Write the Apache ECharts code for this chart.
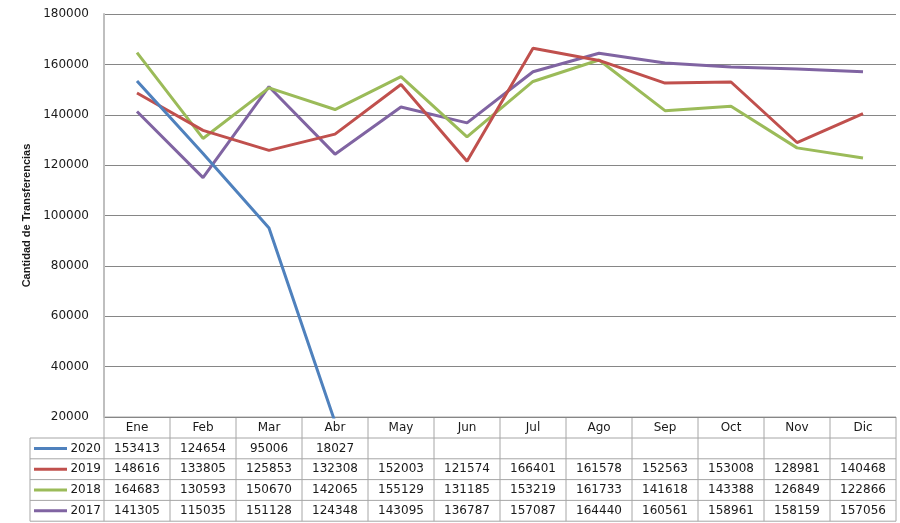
<!DOCTYPE html>
<html>
<head>
<meta charset="utf-8">
<script src="https://cdn.jsdelivr.net/npm/echarts@6/dist/echarts.min.js"></script>
<style>
  html, body { margin: 0; padding: 0; background: #fff; }
  #chart { width: 900px; height: 523px; }
</style>
</head>
<body>
<div id="chart"></div>
<script>
// datos de transferencias por mes
const months = ['Ene', 'Feb', 'Mar', 'Abr', 'May', 'Jun', 'Jul', 'Ago', 'Sep', 'Oct', 'Nov', 'Dic'];
const years = ['2020', '2019', '2018', '2017'];
const data2020 = [153413, 124654, 95006, 18027, null, null, null, null, null, null, null, null];
const data2019 = [148616, 133805, 125853, 132308, 152003, 121574, 166401, 161578, 152563, 153008, 128981, 140468];
const data2018 = [164683, 130593, 150670, 142065, 155129, 131185, 153219, 161733, 141618, 143388, 126849, 122866];
const data2017 = [141305, 115035, 151128, 124348, 143095, 136787, 157087, 164440, 160561, 158961, 158159, 157056];
const colors = ['#4F81BD', '#C0504D', '#9BBB59', '#8064A2'];

// layout de la tabla
const plotLeft = 104, plotRight = 896, plotTop = 14, axisY = 417;
const headH = 21, rowH = 20.8, keyLeft = 30;

function buildTable() {
    const els = [];
    const rows = [data2020, data2019, data2018, data2017];
    const colW = (plotRight - plotLeft) / months.length;
    const bottom = axisY + headH + rowH * rows.length;
    const lineStyle = { stroke: '#A6A6A6', lineWidth: 1 };

    // lineas horizontales
    els.push({ type: 'line', shape: { x1: plotLeft, y1: axisY, x2: plotRight, y2: axisY }, style: lineStyle });
    for (let r = 0; r <= rows.length; r++) {
        const y = axisY + headH + r * rowH;
        els.push({ type: 'line', shape: { x1: keyLeft, y1: y, x2: plotRight, y2: y }, style: lineStyle });
    }
    // lineas verticales
    els.push({ type: 'line', shape: { x1: keyLeft, y1: axisY + headH, x2: keyLeft, y2: bottom }, style: lineStyle });
    for (let c = 0; c <= months.length; c++) {
        const x = plotLeft + c * colW;
        els.push({ type: 'line', shape: { x1: x, y1: axisY, x2: x, y2: bottom }, style: lineStyle });
    }
    // encabezado
    months.forEach(function(m, c) {
        els.push({
            type: 'text',
            x: plotLeft + (c + 0.5) * colW, y: axisY + headH / 2,
            style: { text: m, fill: '#1a1a1a', font: '12px "DejaVu Sans"', align: 'center', verticalAlign: 'middle' }
        });
    });
    // filas con leyenda
    rows.forEach(function(vals, r) {
        const cy = axisY + headH + (r + 0.5) * rowH;
        els.push({ type: 'line', shape: { x1: 34, y1: cy, x2: 67, y2: cy }, style: { stroke: colors[r], lineWidth: 3 } });
        els.push({
            type: 'text', x: 101, y: cy,
            style: { text: years[r], fill: '#1a1a1a', font: '12px "DejaVu Sans"', align: 'right', verticalAlign: 'middle' }
        });
        vals.forEach(function(v, c) {
            if (v == null) return;
            els.push({
                type: 'text',
                x: plotLeft + (c + 0.5) * colW, y: cy,
                style: { text: String(v), fill: '#1a1a1a', font: '12px "DejaVu Sans"', align: 'center', verticalAlign: 'middle' }
            });
        });
    });
    return els;
}

const chart = echarts.init(document.getElementById('chart'));

const seriesData = [data2020, data2019, data2018, data2017];

const option = {
    animation: false,
    grid: {
        left: plotLeft,
        right: 900 - plotRight,
        top: plotTop,
        bottom: 523 - axisY,
        containLabel: false
    },
    xAxis: {
        type: 'category',
        boundaryGap: true,
        data: months,
        axisLine: { show: false },
        axisTick: { show: false },
        axisLabel: { show: false }
    },
    yAxis: {
        type: 'value',
        min: 20000,
        max: 180000,
        interval: 20000,
        name: 'Cantidad de Transferencias',
        nameLocation: 'middle',
        nameRotate: 90,
        nameGap: 70,
        nameTextStyle: {
            fontFamily: 'Liberation Sans',
            fontWeight: 'bold',
            fontSize: 11,
            color: '#1a1a1a'
        },
        axisLine: { show: true, lineStyle: { color: '#BFBFBF', width: 2 } },
        axisTick: { show: false },
        axisLabel: {
            margin: 15,
            fontFamily: 'DejaVu Sans',
            fontSize: 12,
            color: '#1a1a1a',
            formatter: function(v) { return String(v); }
        },
        splitLine: { lineStyle: { color: '#868686', width: 1 } }
    },
    series: years.map(function(y, i) {
        return {
            name: y,
            type: 'line',
            data: seriesData[i],
            symbol: 'none',
            clip: true,
            connectNulls: false,
            lineStyle: { color: colors[i], width: 3 },
            itemStyle: { color: colors[i] },
            z: 10 - i
        };
    }),
    graphic: buildTable()
};

chart.setOption(option);
</script>
</body>
</html>
